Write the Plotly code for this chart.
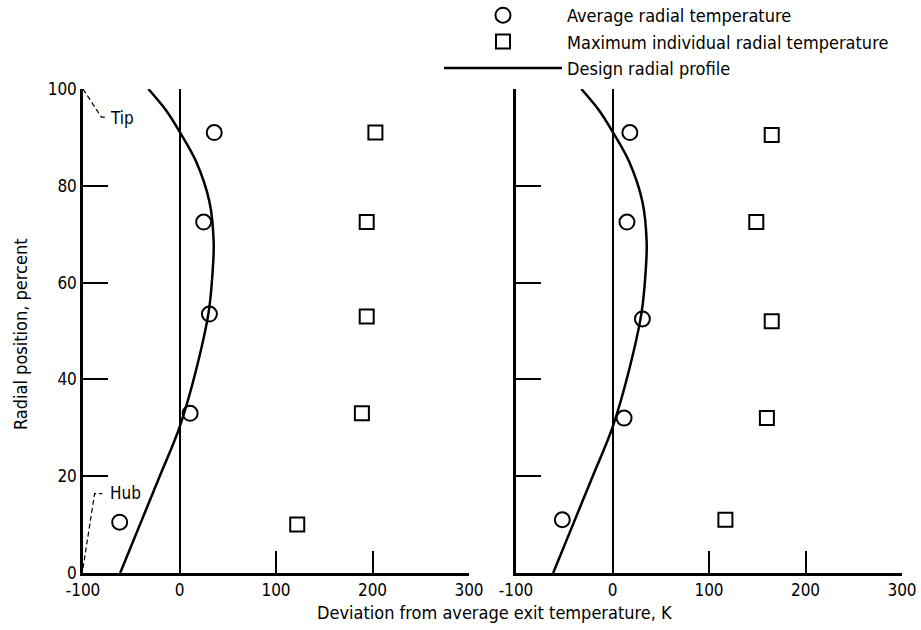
import plotly.graph_objects as go

# ---------------- data ----------------
# Left panel
avg_left_x = [36, 25, 31, 11, -62]
avg_left_y = [91, 72.5, 53.5, 33, 10.5]
max_left_x = [203, 194, 194, 189, 122]
max_left_y = [91, 72.5, 53, 33, 10]
# Right panel
avg_right_x = [18, 15, 31, 12, -52]
avg_right_y = [91, 72.5, 52.5, 32, 11]
max_right_x = [165, 149, 165, 160, 117]
max_right_y = [90.5, 72.5, 52, 32, 11]
# Design radial profile (same for both panels)
design_x = [-61.5, -41, -20.5, 0, 17, 30.2, 34.3, 35.4, 31, 17.2, 0, -14, -32.3]
design_y = [0, 10, 20, 30.1, 41.8, 53.9, 62.2, 68.4, 76.7, 85, 91.2, 95.6, 100]

x_ticks = [-100, 0, 100, 200, 300]
x_tick_text = ["-100", "0", "100", "200", "300"]
y_ticks = [0, 20, 40, 60, 80, 100]

FONT = "DejaVu Sans Condensed, Liberation Sans Narrow, DejaVu Sans, sans-serif"
TXT = 18
TICK = 17

fig = go.Figure()

def add_panel(ax, avgx, avgy, maxx, maxy, show):
    xa = "x" if ax == 1 else "x2"
    ya = "y" if ax == 1 else "y2"
    fig.add_trace(go.Scatter(x=avgx, y=avgy, mode="markers", xaxis=xa, yaxis=ya,
                             name="Average radial temperature", showlegend=show,
                             marker=dict(symbol="circle-open", size=15, color="black",
                                         line=dict(width=2, color="black"))))
    fig.add_trace(go.Scatter(x=maxx, y=maxy, mode="markers", xaxis=xa, yaxis=ya,
                             name="Maximum individual radial temperature", showlegend=show,
                             marker=dict(symbol="square-open", size=14, color="black",
                                         line=dict(width=2, color="black"))))
    fig.add_trace(go.Scatter(x=design_x, y=design_y, mode="lines", xaxis=xa, yaxis=ya,
                             name="Design radial profile", showlegend=show,
                             line=dict(color="black", width=2.5, shape="spline",
                                       smoothing=1.0)))

add_panel(1, avg_left_x, avg_left_y, max_left_x, max_left_y, True)
add_panel(2, avg_right_x, avg_right_y, max_right_x, max_right_y, False)

ydom = [1 - 573 / 630, 1 - 89 / 630]
common_x = dict(range=[-100, 300], tickvals=x_ticks, ticktext=x_tick_text,
                ticks="inside", ticklen=22,
                tickwidth=2, tickcolor="black", showline=True, linecolor="black",
                linewidth=2.5, showgrid=False, zeroline=True, zerolinecolor="black",
                zerolinewidth=2, automargin=False,
                tickfont=dict(size=TICK, color="black", family=FONT))
common_y = dict(range=[0, 100], tickvals=y_ticks, ticks="inside", ticklen=25,
                tickwidth=2, tickcolor="black", showline=True, linecolor="black",
                linewidth=2.5, showgrid=False, zeroline=False, domain=ydom,
                automargin=False,
                tickfont=dict(size=TICK, color="black", family=FONT))

fig.update_layout(
    width=921, height=630,
    margin=dict(l=0, r=0, t=0, b=0, autoexpand=False),
    paper_bgcolor="white", plot_bgcolor="white",
    font=dict(family=FONT, size=TXT, color="black"),
    xaxis=dict(domain=[83 / 921, 469 / 921], anchor="y", **common_x),
    xaxis2=dict(domain=[516 / 921, 902 / 921], anchor="y2", **common_x),
    yaxis=dict(anchor="x", **common_y),
    yaxis2=dict(anchor="x2", showticklabels=False, **common_y),
    legend=dict(x=439 / 921, y=1 + 3 / 630, xanchor="left", yanchor="top",
                itemwidth=118, bgcolor="rgba(0,0,0,0)", tracegroupgap=0,
                font=dict(size=TXT, family=FONT, color="black")),
    showlegend=True,
)

# shared axis titles
fig.add_annotation(text="Deviation from average exit temperature, K",
                   xref="paper", yref="paper", x=494 / 921, y=1 - 612 / 630,
                   xanchor="center", yanchor="middle",
                   showarrow=False, font=dict(size=TXT, family=FONT, color="black"))
fig.add_annotation(text="Radial position, percent", textangle=-90,
                   xref="paper", yref="paper", x=20 / 921, y=1 - 334 / 630,
                   xanchor="center", yanchor="middle",
                   showarrow=False, font=dict(size=TXT, family=FONT, color="black"))

# Tip / Hub labels with dashed leaders
fig.add_annotation(text="Tip", xref="x", yref="y", x=-74, y=94, xanchor="left",
                   yanchor="middle",
                   showarrow=False, font=dict(size=TICK, family=FONT, color="black"))
fig.add_annotation(text="Hub", xref="x", yref="y", x=-74, y=16.5, xanchor="left",
                   yanchor="middle",
                   showarrow=False, font=dict(size=TICK, family=FONT, color="black"))
dash = dict(color="black", width=1.2, dash="5px,3px")
fig.add_shape(type="path", xref="x", yref="y",
              path="M -100,100 L -81,94.2 L -75,94.2", line=dash)
fig.add_shape(type="path", xref="x", yref="y",
              path="M -100,1 L -88,16.4 L -80,16.4", line=dash)

fig.write_html("out.html")
